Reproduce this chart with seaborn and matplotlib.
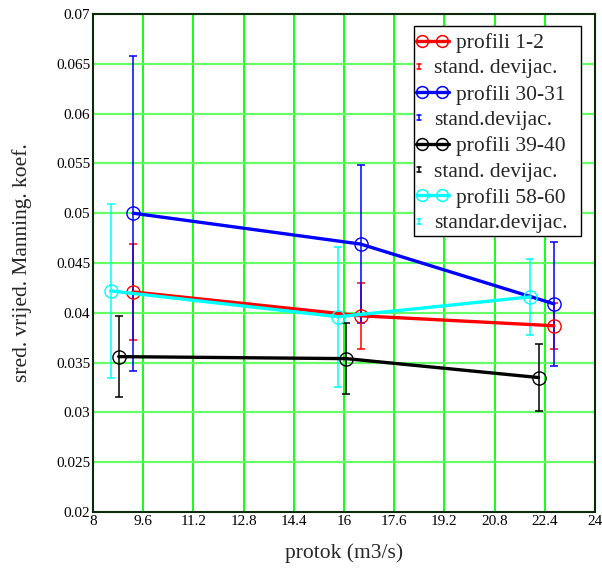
import numpy as np
import pandas as pd
import matplotlib
matplotlib.use("Agg")
import matplotlib.pyplot as plt
import seaborn as sns
from matplotlib.lines import Line2D
from matplotlib.patches import Rectangle
from matplotlib.transforms import Affine2D

# ---- data ----
series_names = ["profili 1-2", "profili 30-31", "profili 39-40", "profili 58-60"]
sd_labels = ["stand. devijac.", "stand.devijac.", "stand. devijac.", "standar.devijac."]
colors = ["#ff0000", "#0000ff", "#000000", "#00ffff"]

q_12 = [9.27, 16.53, 22.69]
n_12 = [0.0421, 0.0397, 0.0387]
sd_12 = [0.0048, 0.0033, 0.0023]

q_3031 = [9.28, 16.53, 22.69]
n_3031 = [0.0500, 0.0469, 0.0409]
sd_3031 = [0.0158, 0.0079, 0.0062]

q_3940 = [8.82, 16.07, 22.20]
n_3940 = [0.0356, 0.0354, 0.0335]
sd_3940 = [0.0041, 0.0036, 0.0034]

q_5860 = [8.56, 15.82, 21.93]
n_5860 = [0.0422, 0.0396, 0.0416]
sd_5860 = [0.0087, 0.0070, 0.0038]

x_ticks = [8, 9.6, 11.2, 12.8, 14.4, 16, 17.6, 19.2, 20.8, 22.4, 24]
x_tick_labels = ["8", "9.6", "11.2", "12.8", "14.4", "16", "17.6", "19.2", "20.8", "22.4", "24"]
y_ticks = [0.02, 0.025, 0.03, 0.035, 0.04, 0.045, 0.05, 0.055, 0.06, 0.065, 0.07]
y_tick_labels = ["0.02", "0.025", "0.03", "0.035", "0.04", "0.045", "0.05", "0.055", "0.06", "0.065", "0.07"]

xs = [q_12, q_3031, q_3940, q_5860]
ys = [n_12, n_3031, n_3940, n_5860]
sds = [sd_12, sd_3031, sd_3940, sd_5860]

df = pd.concat([
    pd.DataFrame({"q": x, "n": y, "sd": s, "serie": name})
    for x, y, s, name in zip(xs, ys, sds, series_names)
], ignore_index=True)

# ---- style ----
sns.set_style("white")
plt.rcParams["font.family"] = ["Liberation Serif", "DejaVu Serif"]

W, H = 602, 573
fig = plt.figure(figsize=(W / 100, H / 100), dpi=100)
ax = fig.add_axes([93 / W, 1 - 512 / H, 502 / W, 498 / H])

# grid
for xv in x_ticks[1:-1]:
    ax.axvline(xv, color="#00ff00", lw=1.3, zorder=0)
for yv in y_ticks[1:-1]:
    ax.axhline(yv, color="#66ff66", lw=1.6, zorder=0)

# error bars
for (name, g), c in zip(df.groupby("serie", sort=False), colors):
    ax.errorbar(g["q"], g["n"], yerr=g["sd"], fmt="none", ecolor=c,
                elinewidth=1.1, capsize=2.6, capthick=1.1, zorder=2)

# lines with open circle markers
sns.lineplot(data=df, x="q", y="n", hue="serie", palette=colors,
             hue_order=series_names, sort=False, estimator=None,
             marker="o", markersize=9.5, markerfacecolor="none",
             markeredgewidth=1.0, lw=2.4, legend=False, ax=ax, zorder=3)
for line, c in zip(ax.get_lines()[-4:], colors):
    line.set_markeredgecolor(c)

ax.set_xlim(8, 24)
ax.set_ylim(0.02, 0.07)
ax.set_xticks(x_ticks)
ax.set_xticklabels(x_tick_labels)
ax.set_yticks(y_ticks)
ax.set_yticklabels(y_tick_labels)
ax.tick_params(length=0, labelsize=11, colors="black", pad=2)
for sp in ax.spines.values():
    sp.set_color("#0a2a0a")
    sp.set_linewidth(1.5)

ax.set_xlabel("protok (m3/s)", fontsize=15.5, labelpad=11)
ax.set_ylabel("sred. vrijed. Manning. koef.", fontsize=15.5, labelpad=17)

# ---- legend (drawn in figure pixel coordinates, top-left origin) ----
px = Affine2D().scale(1 / W, -1 / H).translate(0, 1) + fig.transFigure

box = Rectangle((414, 26), 167, 210, transform=px, facecolor="white",
                edgecolor="black", lw=1.0, zorder=10)
fig.add_artist(box)

row_h = 25.8
y0 = 40.5
for i, (name, sdl, c) in enumerate(zip(series_names, sd_labels, colors)):
    yl = y0 + (2 * i) * row_h
    ye = y0 + (2 * i + 1) * row_h
    fig.add_artist(Line2D([416, 449], [yl, yl], color=c, lw=2.4,
                          transform=px, zorder=11))
    fig.add_artist(Line2D([422, 442], [yl, yl], color=c, lw=0, marker="o",
                          markersize=8.5, markerfacecolor="none",
                          markeredgecolor=c, markeredgewidth=1.1,
                          transform=px, zorder=12))
    fig.text(456 / W, 1 - yl / H, name, fontsize=15.5, va="center_baseline",
             ha="left", zorder=12)
    # small error-bar icon
    fig.add_artist(Line2D([419, 419], [ye - 2.5, ye + 2.5], color=c, lw=1.1,
                          transform=px, zorder=11))
    for yy in (ye - 2.5, ye + 2.5):
        fig.add_artist(Line2D([417, 421], [yy, yy], color=c, lw=1.1,
                              transform=px, zorder=11))
    fig.text(434 / W, 1 - ye / H, sdl, fontsize=15.5, va="center_baseline",
             ha="left", zorder=12)

fig.savefig("out.png", dpi=100)
